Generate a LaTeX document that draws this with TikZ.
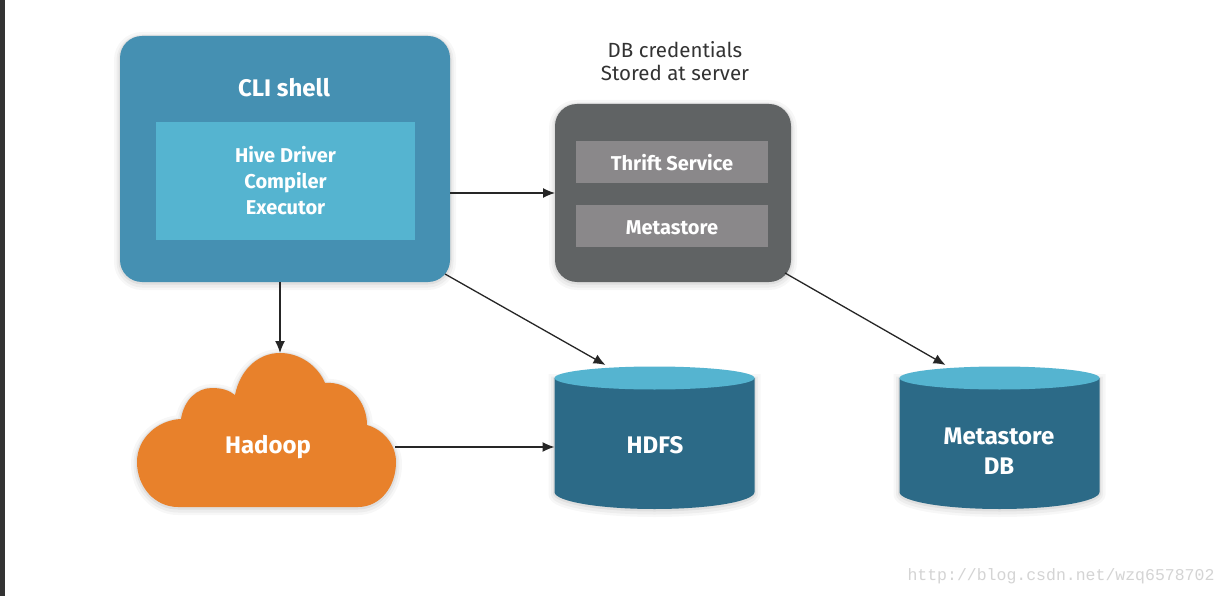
\documentclass[tikz,border=0pt]{standalone}
\usepackage{fontspec}
\setmainfont{Fira Sans}
\newfontfamily\monofont{Liberation Mono}
\usetikzlibrary{arrows.meta}
\definecolor{cliblue}{HTML}{4590B2}
\definecolor{lightblue}{HTML}{55B4D0}
\definecolor{darkblue}{HTML}{2C6A87}
\definecolor{servergray}{HTML}{606364}
\definecolor{innergray}{HTML}{8A888A}
\definecolor{hadooporange}{HTML}{E8812B}
\newcommand{\dbcan}[2]{% name, x
    \begin{scope}[shift={(#2,438)}]
        \path[fill=darkblue, soft] (-100,-60) -- (-100,54) arc[start angle=180, end angle=360, x radius=100pt, y radius=17pt] -- (100,-60) -- cycle;
        \fill[lightblue] (0,-60) ellipse[x radius=100pt, y radius=11.5pt];
    \end{scope}
    \node[minimum width=200pt, minimum height=142pt](#1) at (#2,438){};
}
\begin{document}
\begin{tikzpicture}[x=1pt, y=-1pt, >={Latex[length=12pt,width=10pt]},
    every node/.style={inner sep=0pt, outer sep=0pt, text=white, align=center},
    soft/.style={preaction={draw=black, draw opacity=.03, line width=12pt, transform canvas={yshift=-2pt}},
        preaction={draw=black, draw opacity=.04, line width=7pt, transform canvas={yshift=-2pt}},
        preaction={draw=black, draw opacity=.06, line width=3pt, transform canvas={yshift=-1pt}}},
    panel/.style={rectangle, rounded corners=22pt, soft},
    inner/.style={rectangle, font=\bfseries\fontsize{20}{26}\selectfont},
    dbtext/.style={font=\bfseries\fontsize{24}{30}\selectfont},
    arrow/.style={->, line width=1.3pt, color=black!85}]
    \useasboundingbox (0,0) rectangle (1228,596);
    \fill[white] (0,0) rectangle (1228,596);
    \fill[black!80] (0,0) rectangle (5,596);

    \node[panel, fill=cliblue, minimum width=330pt, minimum height=246pt](cli) at (285,159){};
    \node[font=\bfseries\fontsize{24}{28}\selectfont](cli_title) at (284,88){CLI shell};
    \node[inner, fill=lightblue, minimum width=259pt, minimum height=118pt](driver) at (285.5,181){Hive Driver\\Compiler\\Executor};

    \node[text=black!80, font=\fontsize{20.5}{23}\selectfont](creds) at (675,61.5){DB credentials\\Stored at server};
    \node[panel, fill=servergray, minimum width=236pt, minimum height=178pt](server) at (673,193){};
    \node[inner, fill=innergray, minimum width=192pt, minimum height=42pt, text height=18pt, text depth=0pt](thrift) at (672,162){Thrift Service};
    \node[inner, fill=innergray, minimum width=192pt, minimum height=42pt, text height=16pt, text depth=0pt](metastore) at (672,226){Metastore};

    % cloud
    \path[fill=hadooporange, soft] (178,507) .. controls (155,507) and (137,487) .. (137,462)
        .. controls (137,438) and (158,420) .. (181,419)
        .. controls (184,400) and (197,388) .. (212,388)
        .. controls (221,388) and (229,390) .. (235,395)
        .. controls (240,370) and (258,353) .. (280,353)
        .. controls (300,353) and (318,366) .. (325,383)
        .. controls (350,381) and (367,402) .. (367,425)
        .. controls (384,430) and (396,445) .. (396,462)
        .. controls (396,487) and (380,507) .. (358,507) -- cycle;
    \node[font=\bfseries\fontsize{24}{28}\selectfont](hadoop) at (268,447){Hadoop};
    \coordinate (hadoop_top) at (280,353);
    \coordinate (hadoop_right) at (395,447);

    \dbcan{hdfs}{654.5}
    \node[dbtext](hdfs_label) at (655,445){HDFS};
    \dbcan{metadb}{999.5}
    \node[dbtext](metadb_label) at (999,451){Metastore\\DB};

    \draw[arrow] (cli.east |- server.west) -- (server.west);
    \draw[arrow] (hadoop_top |- cli.south) -- (hadoop_top);
    \draw[arrow] ([xshift=-5pt,yshift=8pt]cli.south east) -- ([xshift=-49pt,yshift=2pt]hdfs.north);
    \draw[arrow] ([xshift=-6pt,yshift=9pt]server.south east) -- ([xshift=-54pt,yshift=2pt]metadb.north);
    \draw[arrow] (hadoop_right) -- (hadoop_right -| hdfs.west);

    \node[text=black!17, font=\monofont\fontsize{16.5}{18}\selectfont](mark) at (1061,576){http://blog.csdn.net/wzq6578702};
\end{tikzpicture}
\end{document}
